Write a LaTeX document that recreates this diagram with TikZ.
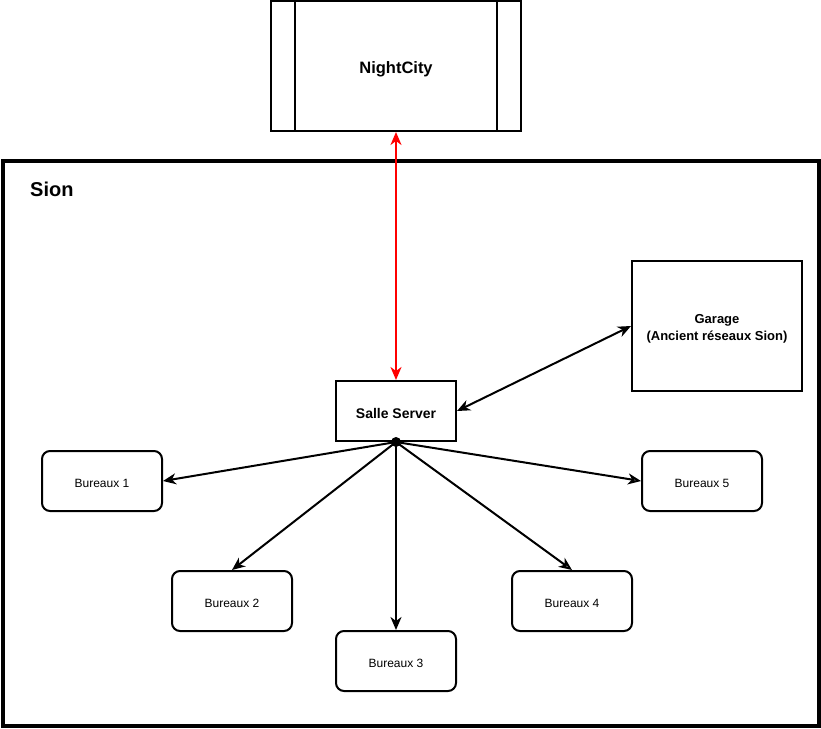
\documentclass[tikz,border=0pt]{standalone}
\usepackage{fontspec}
\setmainfont{Liberation Sans}
\usetikzlibrary{arrows.meta}
\begin{document}
\begin{tikzpicture}[x=1pt,y=-1pt,
  box/.style={draw=black,line width=2pt,inner sep=0pt,fill=white},
  office/.style={box,rounded corners=8pt,minimum width=120pt,minimum height=60pt},
  txt/.style={inner sep=0pt,align=center},
  otxt/.style={txt,font=\fontsize{12}{14}\selectfont},
  link/.style={line width=2pt,-{Stealth[length=13pt,width=11pt,inset=4pt]}},
  openlink/.style={line width=2pt,-{Stealth[open,length=13pt,width=11pt,inset=4pt]}},
  both/.style={line width=2pt,{Stealth[length=13pt,width=11pt,inset=4pt]}-{Stealth[length=13pt,width=11pt,inset=4pt]}}]
\useasboundingbox (0,0) rectangle (821,728);
\fill[white] (0,0) rectangle (821,728);
% Sion area
\node[draw=black,line width=4pt,inner sep=0pt,minimum width=816pt,minimum height=565pt] (sion) at (410.5,443) {};
\node[anchor=west,inner sep=0pt,font=\bfseries\fontsize{20}{24}\selectfont] (sionlbl) at (30,189) {Sion};
% NightCity
\node[box,minimum width=250pt,minimum height=130pt] (nc) at (396,66) {};
\node[txt,font=\bfseries\fontsize{16.5}{20}\selectfont] (nct) at (396,69) {NightCity};
\draw[line width=2pt] ([xshift=25pt]nc.north west) -- ([xshift=25pt]nc.south west);
\draw[line width=2pt] ([xshift=-25pt]nc.north east) -- ([xshift=-25pt]nc.south east);
% Salle Server
\node[box,minimum width=120pt,minimum height=60pt] (ss) at (396,411) {};
\node[txt,font=\bfseries\fontsize{14}{17}\selectfont] (sst) at (396,413) {Salle Server};
% Garage
\node[box,minimum width=170pt,minimum height=130pt] (gar) at (717,326) {};
\node[txt,font=\bfseries\fontsize{13}{17}\selectfont] (gart) at (717,329) {Garage\\(Ancient réseaux Sion)};
% Offices
\node[office] (b1) at (102,481) {};
\node[otxt] (b1t) at (102,483) {Bureaux 1};
\node[office] (b2) at (232,601) {};
\node[otxt] (b2t) at (232,603) {Bureaux 2};
\node[office] (b3) at (396,661) {};
\node[otxt] (b3t) at (396,663) {Bureaux 3};
\node[office] (b4) at (572,601) {};
\node[otxt] (b4t) at (572,603) {Bureaux 4};
\node[office] (b5) at (702,481) {};
\node[otxt] (b5t) at (702,483) {Bureaux 5};
% dot
\node[circle,fill=black,inner sep=0pt,minimum size=10pt] (dot) at (ss.south) {};
% connectors
\draw[both,draw=red,color=red] (nc.south) -- (ss.north);
\draw[both] (gar.west) -- (ss.east);
\draw[link] (dot.center) -- (b1.east);
\draw[link] (dot.center) -- (b2.north);
\draw[link] (dot.center) -- (b3.north);
\draw[openlink] (dot.center) -- (b4.north);
\draw[openlink] (dot.center) -- (b5.west);
\end{tikzpicture}
\end{document}
